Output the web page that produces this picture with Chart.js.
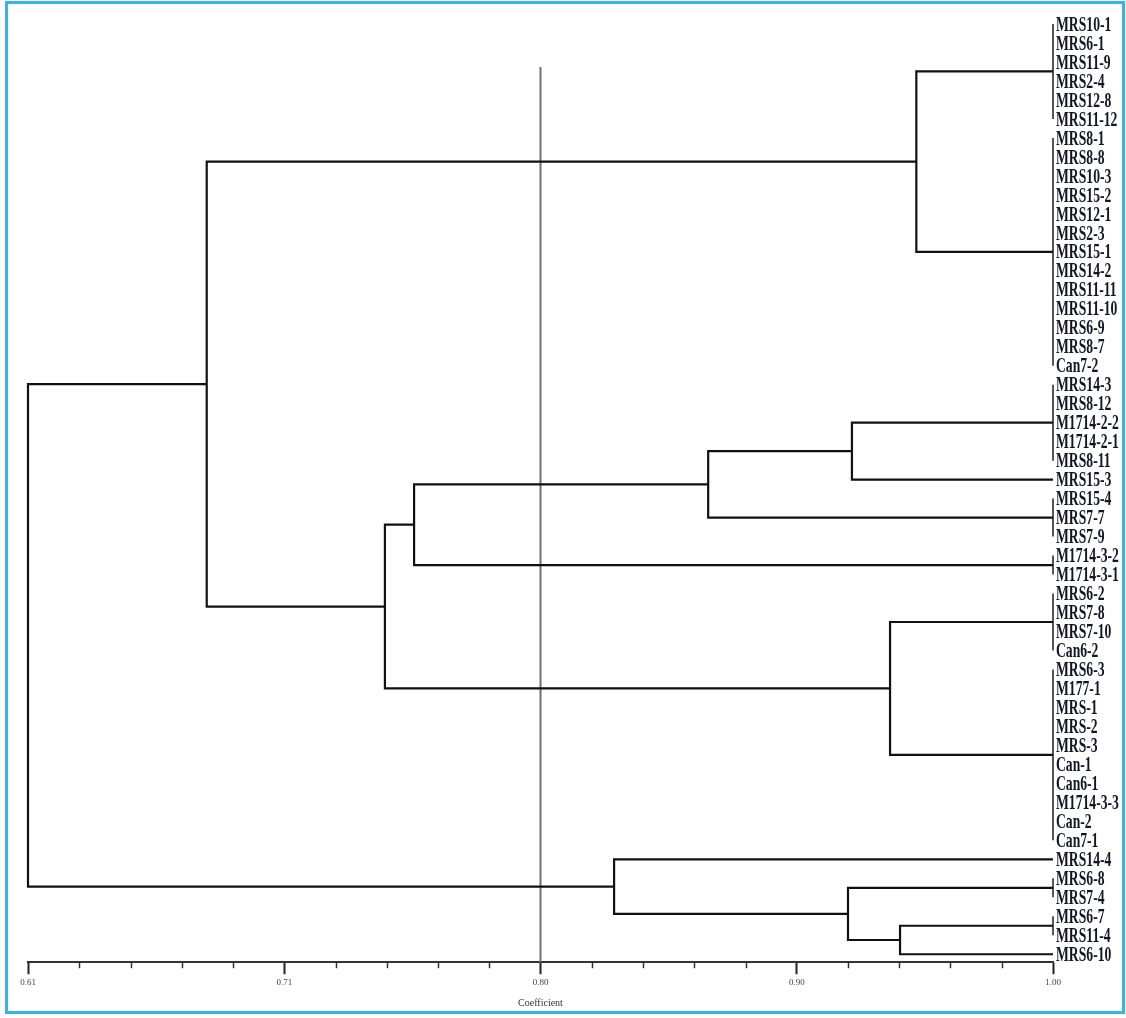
<!DOCTYPE html>
<html>
<head>
<meta charset="utf-8">
<script src="https://cdn.jsdelivr.net/npm/chart.js@4.4.1/dist/chart.umd.min.js"></script>
<style>
  html, body { margin: 0; padding: 0; background: #fff; }
  #wrap { position: relative; width: 1126px; height: 1018px; }
  #wrap canvas { position: absolute; left: 0; top: 0; }
  #frame { position: absolute; left: 5px; top: 1px; width: 1114px; height: 1007px; border: 3px solid #36b4e5; pointer-events: none; }
</style>
</head>
<body>
<div id="wrap">
  <canvas id="dendro" width="1126" height="1018"></canvas>
  <div id="frame"></div>
</div>
<script>
// leaves, top to bottom
const leafLabels = [
  "MRS10-1", "MRS6-1", "MRS11-9", "MRS2-4", "MRS12-8", "MRS11-12",
  "MRS8-1", "MRS8-8", "MRS10-3", "MRS15-2", "MRS12-1", "MRS2-3", "MRS15-1",
  "MRS14-2", "MRS11-11", "MRS11-10", "MRS6-9", "MRS8-7", "Can7-2",
  "MRS14-3", "MRS8-12", "M1714-2-2", "M1714-2-1", "MRS8-11",
  "MRS15-3",
  "MRS15-4", "MRS7-7", "MRS7-9",
  "M1714-3-2", "M1714-3-1",
  "MRS6-2", "MRS7-8", "MRS7-10", "Can6-2",
  "MRS6-3", "M177-1", "MRS-1", "MRS-2", "MRS-3", "Can-1", "Can6-1", "M1714-3-3", "Can-2", "Can7-1",
  "MRS14-4",
  "MRS6-8", "MRS7-4",
  "MRS6-7", "MRS11-4",
  "MRS6-10"
];

// groups of identical leaves (coefficient 1.00), as leaf positions (1-based)
const groupFirst = [1, 7, 20, 25, 26, 29, 31, 35, 45, 46, 48, 50];
const groupLast  = [6, 19, 24, 25, 28, 30, 34, 44, 45, 47, 49, 50];

// merges: node ids 0..11 are the groups above, 12.. are the merges in order
const mergeLeft   = [0, 2, 13, 14, 6, 15, 12, 10, 9, 8, 18];
const mergeRight  = [1, 3, 4, 5, 7, 16, 17, 11, 19, 20, 21];
const mergeHeight = [0.948, 0.9235, 0.8688, 0.7569, 0.938, 0.7458, 0.678, 0.9418, 0.922, 0.833, 0.61];

const identicalLevel = 1.00;
const cutLevel = 0.805;
const cutTop = 3.26;

const axisMin = 0.61;
const axisMax = 1.00;
const majorTickLabels = ["0.61", "0.71", "0.80", "0.90", "1.00"];
const minorPerMajor = 5;
const yBottom = 50.42;

// node positions
const nodeX = [];
const nodeY = [];
groupFirst.forEach((f, g) => {
  nodeX[g] = identicalLevel;
  nodeY[g] = (f + groupLast[g]) / 2;
});
mergeLeft.forEach((a, k) => {
  const b = mergeRight[k];
  const id = groupFirst.length + k;
  nodeX[id] = mergeHeight[k];
  nodeY[id] = (nodeY[a] + nodeY[b]) / 2;
});

const lineStyle = {
  showLine: true,
  pointRadius: 0,
  pointHoverRadius: 0,
  fill: false,
  clip: false,
};

const datasets = [];

mergeLeft.forEach((a, k) => {
  const b = mergeRight[k];
  const h = mergeHeight[k];
  datasets.push({
    ...lineStyle,
    borderColor: "#111",
    borderWidth: 2.2,
    data: [
      { x: nodeX[a], y: nodeY[a] },
      { x: h, y: nodeY[a] },
      { x: h, y: nodeY[b] },
      { x: nodeX[b], y: nodeY[b] },
    ],
  });
});

groupFirst.forEach((f, g) => {
  if (f === groupLast[g]) return;
  datasets.push({
    ...lineStyle,
    borderColor: "#555",
    borderWidth: 2,
    data: [
      { x: identicalLevel, y: f },
      { x: identicalLevel, y: groupLast[g] },
    ],
  });
});

datasets.push({
  ...lineStyle,
  borderColor: "#707070",
  borderWidth: 2,
  data: [
    { x: cutLevel, y: cutTop },
    { x: cutLevel, y: yBottom },
  ],
});

const leafLabelPlugin = {
  id: "leafLabels",
  afterDatasetsDraw(chart) {
    const { ctx, scales } = chart;
    const left = scales.x.getPixelForValue(identicalLevel) + 3;
    ctx.save();
    ctx.font = 'bold 22px "Liberation Serif", "Times New Roman", serif';
    ctx.fillStyle = "#15152a";
    ctx.textBaseline = "middle";
    leafLabels.forEach((name, i) => {
      const py = scales.y.getPixelForValue(i + 1);
      ctx.save();
      ctx.translate(left, py + 1);
      ctx.scale(0.62, 1);
      ctx.fillText(name, 0, 0);
      ctx.restore();
    });
    ctx.restore();
  },
};

const minorTickPlugin = {
  id: "minorTicks",
  afterDraw(chart) {
    const { ctx, scales, chartArea } = chart;
    ctx.save();
    ctx.strokeStyle = "#333";
    ctx.lineWidth = 1.5;
    scales.x.ticks.forEach((t, i) => {
      if (i % minorPerMajor === 0) return;
      const px = Math.round(scales.x.getPixelForValue(t.value)) + 0.5;
      ctx.beginPath();
      ctx.moveTo(px, chartArea.bottom);
      ctx.lineTo(px, chartArea.bottom + 6);
      ctx.stroke();
    });
    ctx.restore();
  },
};

document.addEventListener("DOMContentLoaded", () => {
  new Chart(document.getElementById("dendro"), {
    type: "scatter",
    data: { datasets },
    options: {
      responsive: false,
      animation: false,
      events: [],
      layout: { padding: { left: 28, right: 73, top: 5, bottom: 5 } },
      plugins: {
        legend: { display: false },
        tooltip: { enabled: false },
      },
      scales: {
        x: {
          type: "linear",
          position: "bottom",
          min: axisMin,
          max: axisMax,
          afterBuildTicks(scale) {
            const n = (majorTickLabels.length - 1) * minorPerMajor;
            const step = (axisMax - axisMin) / n;
            scale.ticks = Array.from({ length: n + 1 }, (_, i) => ({ value: axisMin + i * step }));
          },
          ticks: {
            autoSkip: false,
            maxRotation: 0,
            minRotation: 0,
            padding: 3,
            color: "#444",
            font: { family: '"Liberation Serif", serif', size: 9 },
            callback: (value, index) =>
              index % minorPerMajor === 0 ? majorTickLabels[index / minorPerMajor] : "",
          },
          grid: {
            drawOnChartArea: false,
            drawTicks: true,
            tickLength: 12,
            tickWidth: 2,
            tickColor: (c) => (c.index % minorPerMajor === 0 ? "#222" : "rgba(0,0,0,0)"),
          },
          border: { display: true, color: "#333", width: 2 },
          title: {
            display: true,
            text: "Coefficient",
            color: "#333",
            font: { family: '"Liberation Serif", serif', size: 10 },
            padding: { top: 6, bottom: 4 },
          },
        },
        y: {
          type: "linear",
          display: false,
          reverse: true,
          min: 0,
          max: yBottom,
        },
      },
    },
    plugins: [leafLabelPlugin, minorTickPlugin],
  });
});
</script>
</body>
</html>
